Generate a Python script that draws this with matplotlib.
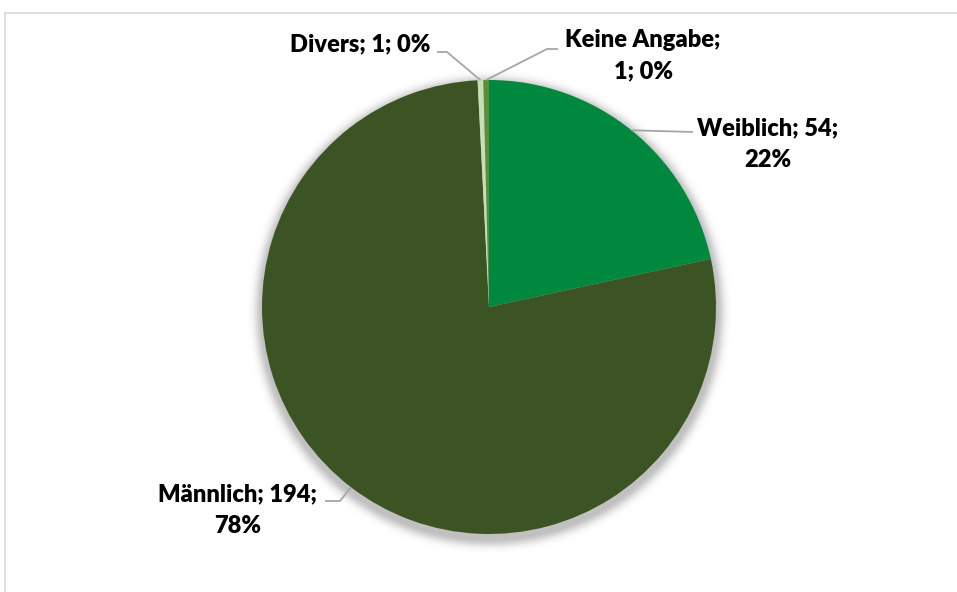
import numpy as np
import matplotlib
matplotlib.use("Agg")
import matplotlib.pyplot as plt
from matplotlib.patches import Rectangle

# Data
categories = ["Weiblich", "Männlich", "Divers", "Keine Angabe"]
counts = [54, 194, 1, 1]
colors = ["#00893E", "#3C5424", "#C5E0B4", "#5E8C3A"]
# where each label wraps onto a second line ("" = single line)
wrap_after = ["value", "value", "", "name"]

W, H = 957, 592
CX, CY, R = 489, 307, 227  # pie centre / radius in pixels (y from top)

plt.rcParams["font.family"] = ["Lato", "DejaVu Sans"]

fig = plt.figure(figsize=(W / 100, H / 100), dpi=100)
ax = fig.add_axes([0, 0, 1, 1])


def fy(y):
    """Convert a top-down pixel row to the axes' bottom-up coordinate."""
    return H - y


# chart area frame
ax.add_patch(Rectangle((5, fy(H + 20)), W + 20, H + 20 - 13, fill=False,
                       edgecolor="#D9D9D9", linewidth=1.2, zorder=0))

# soft drop shadow below the pie
yy, xx = np.mgrid[0:H, 0:W]
d = np.hypot(xx - CX, yy - (CY + 4)) - R
alpha = 0.25 * np.exp(-np.clip(d, 0, None) ** 2 / (2 * 5.5 ** 2))
alpha[d < 0] = 0.25
shadow = np.zeros((H, W, 4))
shadow[..., 3] = alpha
ax.imshow(shadow, extent=(0, W, 0, H), origin="upper", zorder=1,
          interpolation="bilinear")

wedges, _ = ax.pie(counts, colors=colors, startangle=90, counterclock=False,
                   center=(CX, fy(CY)), radius=R,
                   wedgeprops=dict(linewidth=0))
for w in wedges:
    w.set_zorder(2)

total = sum(counts)

# label placement: text centre, then leader path from label towards the slice
label_pos = [(768, 144), (238, 510), (360, 44), (643, 56)]
leader_mid = [None, (340, 501), (447, 52), (547, 49)]
leader_end = [(693, 132), (325, 501), (437, 52), (558, 49)]

for i, (w, name, n) in enumerate(zip(wedges, categories, counts)):
    pct = round(n / total * 100)
    if wrap_after[i] == "value":
        txt = f"{name}; {n};\n{pct}%"
    elif wrap_after[i] == "name":
        txt = f"{name};\n{n}; {pct}%"
    else:
        txt = f"{name}; {n}; {pct}%"
    mid = np.deg2rad((w.theta1 + w.theta2) / 2)
    ax_pt = (CX + R * np.cos(mid), CY - R * np.sin(mid))
    pts = [ax_pt]
    if leader_mid[i] is not None:
        pts.append(leader_mid[i])
    pts.append(leader_end[i])
    xs = [p[0] for p in pts]
    ys = [fy(p[1]) for p in pts]
    ax.plot(xs, ys, color="#A6A6A6", linewidth=1.3, zorder=3,
            solid_capstyle="butt")
    lx, ly = label_pos[i]
    ax.text(lx, fy(ly), txt, ha="center", va="center", multialignment="center",
            fontsize=17, fontweight="heavy", color="#000000", linespacing=1.52,
            zorder=4)

ax.set_xlim(0, W)
ax.set_ylim(0, H)
ax.set_aspect("equal", adjustable="box")
ax.axis("off")

fig.savefig("out.png", dpi=100, facecolor="white")
